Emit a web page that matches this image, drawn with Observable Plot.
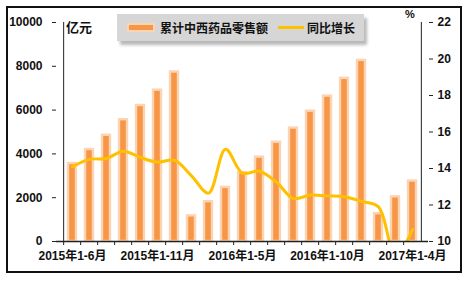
<!DOCTYPE html>
<html>
<head>
<meta charset="utf-8">
<script src="https://cdn.jsdelivr.net/npm/d3@7"></script>
<script src="https://cdn.jsdelivr.net/npm/@observablehq/plot@0.6"></script>
<style>
  body { margin: 0; background: #fff; }
  #wrap { position: relative; width: 468px; height: 281px; font-family: "Liberation Sans", "Noto Sans CJK SC", sans-serif; }
  #border { position: absolute; left: 6px; top: 6px; width: 452px; height: 263px; border: 2px solid #111; pointer-events: none; }
  #legend { position: absolute; left: 117px; top: 14px; width: 247px; height: 27px; background: #d6d6d6;
            box-shadow: 3px 4px 3px rgba(0,0,0,0.28); display: flex; align-items: center;
            font: bold 12px "Noto Sans CJK SC", sans-serif; color: #111; }
  .sw-bar { width: 24px; height: 5px; background: #f79646; border: 2px solid #fbd4b4; margin-left: 10px; margin-right: 5px; }
  .sw-line { width: 26px; height: 3px; background: #ffc000; margin-left: 10px; margin-right: 3px; }
  .unit { position: absolute; font: bold 13px "Noto Sans CJK SC", sans-serif; color: #111; }
</style>
</head>
<body>
<div id="wrap">
  <div id="chart"></div>
  <div class="unit" style="left:66px; top:17px;">亿元</div>
  <div class="unit" style="left:405px; top:8px; font: bold 11px 'Liberation Sans', sans-serif;">%</div>
  <div id="legend"><span class="sw-bar"></span><span>累计中西药品零售额</span><span class="sw-line"></span><span>同比增长</span></div>
  <div id="border"></div>
</div>
<script>
const categories = [
  "2015年1-6月","2015年1-7月","2015年1-8月","2015年1-9月","2015年1-10月","2015年1-11月","2015年1-12月",
  "2016年1-2月","2016年1-3月","2016年1-4月","2016年1-5月","2016年1-6月","2016年1-7月","2016年1-8月",
  "2016年1-9月","2016年1-10月","2016年1-11月","2016年1-12月",
  "2017年1-2月","2017年1-3月","2017年1-4月"
];
const sales = [3560, 4200, 4850, 5560, 6210, 6910, 7740, 1170, 1820, 2470, 3140, 3850, 4530, 5180, 5950, 6640, 7450, 8270, 1270, 2040, 2760];
const growth = [14.1, 14.5, 14.55, 14.95, 14.6, 14.35, 14.45, 13.6, 12.65, 15.05, 13.75, 13.85, 13.25, 12.35, 12.55, 12.5, 12.45, 12.2, 11.9, 9.2, 10.65];
const labelCats = ["2015年1-6月", "2015年1-11月", "2016年1-5月", "2016年1-10月", "2017年1-4月"];
const leftTicks = [0, 2000, 4000, 6000, 8000, 10000];
const rightTicks = [10, 12, 14, 16, 18, 20, 22];

// map right-axis percent onto left-axis units
const toLeft = p => (p - 10) / 12 * 10000;
const fromLeft = v => Math.round(v / 10000 * 12 + 10);

const rows = categories.map((c, i) => ({c, sales: sales[i], growth: growth[i], g: toLeft(growth[i])}));

const W = 468, H = 281, mL = 56, mR = 40, mT = 22, mB = 40;
const step = (W - mL - mR) / categories.length;
const pad = 0.51;
const ff = "'Liberation Sans', 'Noto Sans CJK SC', sans-serif";

const chart = Plot.plot({
  width: W, height: H,
  marginLeft: mL, marginRight: mR, marginTop: mT, marginBottom: mB,
  style: {fontFamily: ff, fontSize: "12px", fontWeight: "bold", color: "#111", background: "transparent"},
  x: {type: "band", domain: categories, paddingInner: pad, paddingOuter: pad / 2, axis: null, label: null},
  y: {domain: [0, 10000], axis: null, label: null},
  marks: [
    Plot.barY(rows, {x: "c", y: "sales", fill: "#f79646", stroke: "#fbd4b4", strokeWidth: 2.4}),
    Plot.line(rows, {x: "c", y: "g", stroke: "#ffc000", strokeWidth: 3, curve: "catmull-rom", clip: true}),
    // left axis
    Plot.ruleX([0], {x: () => categories[0], dx: -step / 2, y1: 0, y2: 10000, stroke: "#222"}),
    Plot.axisY({ticks: leftTicks, anchor: "left", label: null, tickSize: 4, tickPadding: 10, tickFormat: d => String(d), stroke: "#222", fontSize: 12, fontWeight: "bold", fill: "#111"}),
    // right axis (percent)
    Plot.ruleX([0], {x: () => categories[categories.length - 1], dx: step / 2, y1: 0, y2: 10000, stroke: "#222"}),
    Plot.axisY({ticks: rightTicks.map(toLeft), anchor: "right", label: null, tickSize: 4, tickPadding: 5, tickFormat: fromLeft, stroke: "#222", fontSize: 12, fontWeight: "bold", fill: "#111"}),
    // baseline + boundary ticks
    Plot.ruleY([0], {stroke: "#222", strokeWidth: 1.5}),
    Plot.axisX({ticks: categories, anchor: "bottom", label: null, tickSize: 4, tickFormat: null, dx: -step / 2, stroke: "#222"}),
    Plot.axisX({ticks: labelCats, anchor: "bottom", label: null, tickSize: 0, tickPadding: 10, fontSize: 12, fontWeight: "bold", fill: "#111", fontFamily: ff})
  ]
});
document.getElementById("chart").appendChild(chart);
</script>
</body>
</html>
